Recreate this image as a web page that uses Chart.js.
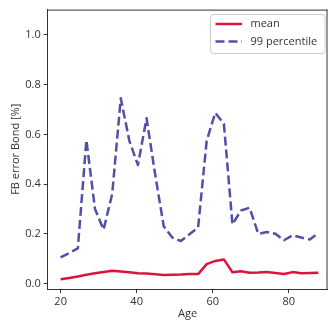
<!DOCTYPE html>
<html><head><meta charset="utf-8">
<script src="https://cdn.jsdelivr.net/npm/chart.js@4.4.1/dist/chart.umd.min.js"></script>
<style>html,body{margin:0;padding:0;background:#fff;}#wrap{width:328px;height:323px;}</style>
</head><body><div id="wrap"><canvas id="c" width="328" height="323"></canvas></div>
<script>
const ages = [20, 22.26, 24.52, 26.78, 29.04, 31.3, 33.56, 35.82, 38.08, 40.34, 42.6, 44.86, 47.12, 49.38, 51.64, 53.9, 56.16, 58.42, 60.68, 62.94, 65.2, 67.46, 69.72, 71.98, 74.24, 76.5, 78.76, 81.02, 83.28, 85.54, 87.8];
const meanVals = [0.017, 0.022, 0.028, 0.035, 0.041, 0.046, 0.051, 0.048, 0.045, 0.041, 0.040, 0.037, 0.034, 0.035, 0.036, 0.038, 0.038, 0.078, 0.091, 0.097, 0.045, 0.049, 0.043, 0.044, 0.046, 0.042, 0.038, 0.046, 0.041, 0.042, 0.043];
const p99Vals = [0.105, 0.123, 0.141, 0.577, 0.30, 0.217, 0.36, 0.745, 0.574, 0.477, 0.665, 0.44, 0.23, 0.185, 0.171, 0.198, 0.225, 0.574, 0.687, 0.643, 0.238, 0.294, 0.305, 0.200, 0.207, 0.200, 0.174, 0.194, 0.185, 0.177, 0.203];
const seriesNames = ['mean', '99 percentile'];
const xTicks = [20, 40, 60, 80];
const yTicks = [0.0, 0.2, 0.4, 0.6, 0.8, 1.0];

const FONT = 'Open Sans';
const TXT = '#333333';

const legendPlugin = {
  id: 'boxLegend',
  afterDraw(chart) {
    const ctx = chart.ctx;
    ctx.save();
    const x0 = 210.5, y0 = 14.5, w = 114.5, h = 39, r = 3;
    ctx.beginPath();
    ctx.moveTo(x0 + r, y0);
    ctx.arcTo(x0 + w, y0, x0 + w, y0 + h, r);
    ctx.arcTo(x0 + w, y0 + h, x0, y0 + h, r);
    ctx.arcTo(x0, y0 + h, x0, y0, r);
    ctx.arcTo(x0, y0, x0 + w, y0, r);
    ctx.closePath();
    ctx.fillStyle = 'rgba(255,255,255,0.85)';
    ctx.fill();
    ctx.strokeStyle = '#cccccc';
    ctx.lineWidth = 1;
    ctx.stroke();
    const ys = [24, 41.5];
    chart.data.datasets.forEach((ds, i) => {
      ctx.beginPath();
      ctx.setLineDash(ds.borderDash || []);
      ctx.strokeStyle = ds.borderColor;
      ctx.lineWidth = ds.borderWidth;
      ctx.moveTo(215.5, ys[i]);
      ctx.lineTo(242, ys[i]);
      ctx.stroke();
      ctx.setLineDash([]);
      ctx.fillStyle = TXT;
      ctx.font = '11px "' + FONT + '"';
      ctx.textBaseline = 'middle';
      ctx.textAlign = 'left';
      ctx.fillText(ds.label, 250.5, ys[i]);
    });
    ctx.restore();
  }
};

const framePlugin = {
  id: 'frame',
  afterDatasetsDraw(chart) {
    const a = chart.chartArea, ctx = chart.ctx;
    ctx.save();
    ctx.strokeStyle = '#333333';
    ctx.lineWidth = 1;
    ctx.beginPath();
    ctx.moveTo(a.left, a.top + 0.5);
    ctx.lineTo(a.right, a.top + 0.5);
    ctx.moveTo(a.right - 0.5, a.top);
    ctx.lineTo(a.right - 0.5, a.bottom);
    ctx.stroke();
    ctx.restore();
  }
};

new Chart(document.getElementById('c'), {
  type: 'line',
  data: {
    datasets: [
      {
        label: seriesNames[0],
        data: ages.map((a, i) => ({x: a, y: meanVals[i]})),
        borderColor: '#dc143c',
        borderWidth: 2.5,
        borderJoinStyle: 'round',
        pointRadius: 0,
        tension: 0,
        fill: false
      },
      {
        label: seriesNames[1],
        data: ages.map((a, i) => ({x: a, y: p99Vals[i]})),
        borderColor: '#5050a8',
        borderWidth: 2.5,
        borderDash: [9, 4],
        borderJoinStyle: 'round',
        pointRadius: 0,
        tension: 0,
        fill: false
      }
    ]
  },
  options: {
    responsive: false,
    animation: false,
    devicePixelRatio: 1,
    layout: {padding: {top: 8, right: 0.5, left: 0, bottom: 0}},
    plugins: {legend: {display: false}, tooltip: {enabled: false}},
    scales: {
      x: {
        type: 'linear',
        min: 16.6, max: 90.2,
        afterBuildTicks: s => { s.ticks = xTicks.map(v => ({value: v})); },
        afterFit: s => { s.height = 34; },
        grid: {display: true, drawOnChartArea: false, drawTicks: true, tickLength: 4, color: '#333333'},
        border: {display: true, color: '#333333', width: 1},
        ticks: {color: TXT, font: {family: FONT, size: 11}, padding: 2, maxRotation: 0, callback: v => String(v)},
        title: {display: true, text: 'Age', color: TXT, font: {family: FONT, size: 11}, padding: {top: 0, bottom: 2.4}}
      },
      y: {
        type: 'linear',
        min: -0.022, max: 1.102,
        afterBuildTicks: s => { s.ticks = yTicks.map(v => ({value: v})); },
        afterFit: s => { s.width = 47.7; },
        grid: {display: true, drawOnChartArea: false, drawTicks: true, tickLength: 4, color: '#333333'},
        border: {display: true, color: '#333333', width: 1},
        ticks: {color: TXT, font: {family: FONT, size: 11}, padding: 3, callback: v => Number(v).toFixed(1)},
        title: {display: true, text: 'FB error Bond [%]', color: TXT, font: {family: FONT, size: 11}, padding: {top: 9.4, bottom: 0}}
      }
    }
  },
  plugins: [framePlugin, legendPlugin]
});
</script></body></html>
